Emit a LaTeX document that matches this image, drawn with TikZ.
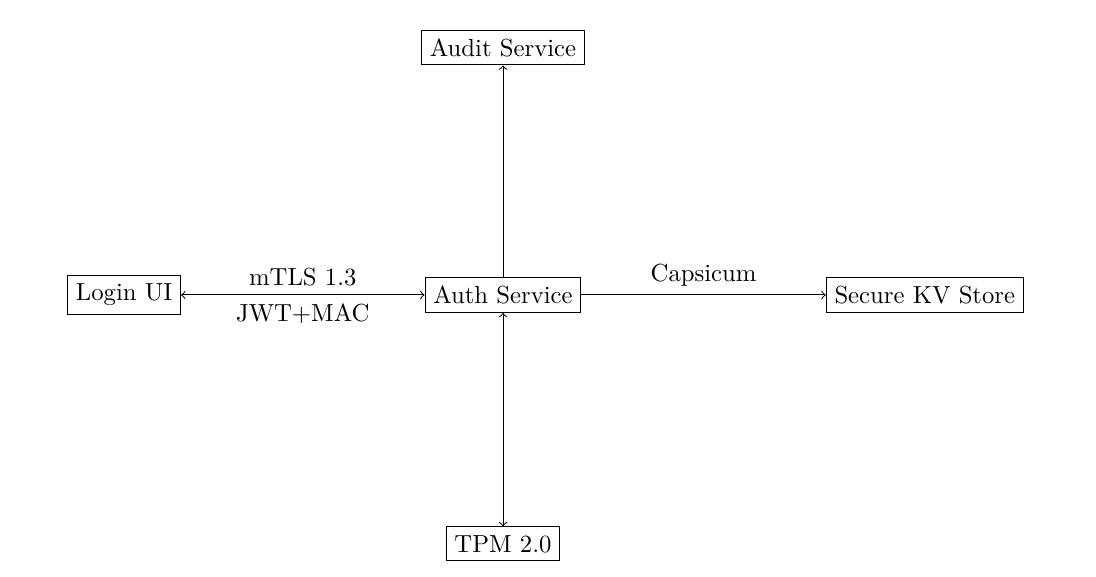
\documentclass[tikz,border=0pt]{standalone}
\begin{document}
\begin{tikzpicture}[box/.style={draw}]
\useasboundingbox (-7.155,-4.011) rectangle (8.435,4.196);
\node[box] (auth) at (0,0) {Auth Service};
\node[box] (login) at (-5.39,0) {Login UI};
\node[box] (kv) at (6.0,0) {Secure KV Store};
\node[box] (audit) at (0,3.52) {Audit Service};
\node[box] (tpm) at (0,-3.54) {TPM 2.0};
\draw[<->] (login) -- node[above] {mTLS 1.3} node[below] {JWT+MAC} (auth);
\draw[->] (auth) -- node[above] {Capsicum} (kv);
\draw[->] (auth) -- (audit);
\draw[<->] (auth) -- (tpm);
\end{tikzpicture}
\end{document}
